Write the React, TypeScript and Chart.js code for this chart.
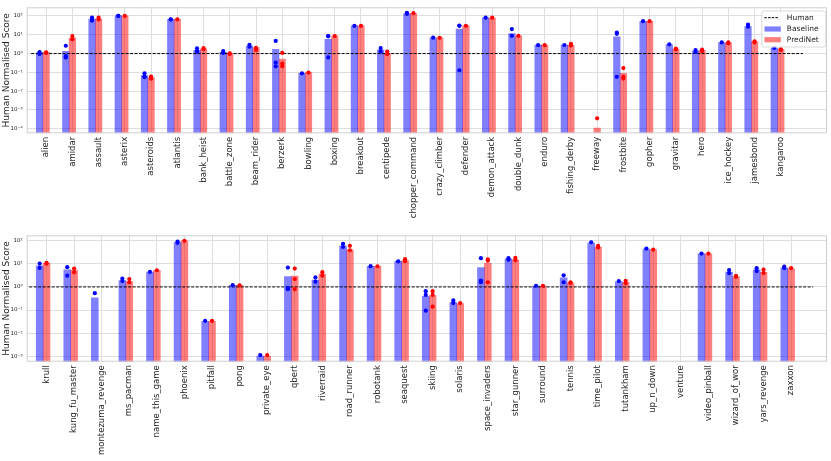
import { useEffect, useRef } from "react";
import { Chart, registerables } from "chart.js";

Chart.register(...registerables);

// ---- data ----
const topGames = [
  "alien", "amidar", "assault", "asterix", "asteroids", "atlantis", "bank_heist",
  "battle_zone", "beam_rider", "berzerk", "bowling", "boxing", "breakout", "centipede",
  "chopper_command", "crazy_climber", "defender", "demon_attack", "double_dunk", "enduro",
  "fishing_derby", "freeway", "frostbite", "gopher", "gravitar", "hero", "ice_hockey",
  "jamesbond", "kangaroo",
];
const topBaseline = [
  1.08, 1.3, 69, 102, 0.068, 66, 1.5, 1.17, 2.5, 1.67, 0.089, 5.7, 30, 1.6, 135, 6.9, 20,
  81, 11.7, 2.8, 2.8, null, 7.8, 52, 3.0, 1.37, 3.8, 27, 1.96,
];
const topPrediNet = [
  1.17, 6.9, 69, 100, 0.053, 66, 1.8, 1.04, 2.1, 0.51, 0.097, 8.5, 30, 1.04, 135, 6.9, 31,
  78, 8.8, 2.8, 2.8, 0.00011, 0.089, 52, 1.74, 1.48, 3.7, 4.2, 1.67,
];
const topBaselineSeeds = [
  [1.2, 0.96, 1.08], [2.6, 0.73, 0.62], [81, 56, 70], [102, 100], [0.09, 0.056, 0.06],
  [66, 64], [1.9, 1.27, 1.35], [1.37, 1.1], [2.9, 2.3], [4.7, 0.33, 0.21], [0.089],
  [8.5, 8.3, 0.62], [30], [1.96, 1.3], [146, 130], [7.0], [31, 30, 0.13], [81], [20, 8.8],
  [2.8], [2.85], [], [13, 11.2, 0.058], [53], [3.1], [1.55, 1.22], [3.9], [35, 27], [2.0],
];
const topPrediNetSeeds = [
  [1.17, 1.08], [8.5, 5.7], [81, 66], [100], [0.06, 0.046], [66], [1.96, 1.67],
  [1.04, 0.96], [2.0, 1.55], [1.08, 0.29, 0.21], [0.097], [8.5], [30], [1.27, 0.92], [140],
  [6.9], [30], [81], [8.8], [2.8], [3.25, 2.7], [0.00036], [0.17, 0.058, 0.047], [53],
  [1.85, 1.65], [1.6, 1.35], [3.9, 3.5], [4.5, 3.9], [1.75, 1.55],
];

const bottomGames = [
  "krull", "kung_fu_master", "montezuma_revenge", "ms_pacman", "name_this_game", "phoenix",
  "pitfall", "pong", "private_eye", "qbert", "riverraid", "road_runner", "robotank",
  "seaquest", "skiing", "solaris", "space_invaders", "star_gunner", "surround", "tennis",
  "time_pilot", "tutankham", "up_n_down", "venture", "video_pinball", "wizard_of_wor",
  "yars_revenge", "zaxxon",
];
const bottomBaseline = [
  8.2, 5.5, 0.34, 1.9, 4.4, 84, 0.032, 1.17, 0.00102, 2.8, 2.0, 61, 7.9, 12.9, 0.39, 0.21,
  6.9, 16.6, 1.1, 2.5, 79, 1.73, 44, null, 27, 4.4, 5.5, 6.7,
];
const bottomPrediNet = [
  10.6, 5.4, null, 1.7, 5.2, 99, 0.032, 1.17, 0.00102, 3.0, 3.6, 41, 7.9, 14.1, 0.42, 0.19,
  10.6, 15.1, 1.1, 1.47, 54, 1.57, 41, null, 27, 2.8, 4.3, 6.3,
];
const bottomBaselineSeeds = [
  [10.3, 6.7], [7.2, 3.1], [0.54], [2.3, 1.8], [4.5], [93, 82], [0.034], [1.2], [0.00112],
  [6.9, 0.91, 0.8], [2.6, 1.7], [74, 54], [8.0], [12.9], [0.66, 0.45, 0.094], [0.26, 0.2],
  [17.8, 1.9, 1.6], [17.8, 15.3], [1.13], [3.2, 1.6], [87], [1.8], [46], [], [28],
  [5.4, 4.0], [6.5, 4.9], [7.6, 6.6],
];
const bottomPrediNetSeeds = [
  [11, 10.2], [6.3, 4.3], [], [2.2, 1.6], [5.3], [100], [0.034], [1.17], [0.00112],
  [6.3, 2.2, 0.8], [4.4, 3.1], [61, 39], [7.9], [16, 13], [0.66, 0.45, 0.14], [0.2],
  [15.6, 13.7, 1.6], [18.5, 14.5], [1.13], [1.6, 1.47], [60, 52], [1.85, 1.45], [42], [],
  [28], [3.0, 2.75], [5.6, 4.0], [6.6],
];

const humanLevel = 1;
const yTitle = "Human Normalised Score";
const legendLabels = ["Human", "Baseline", "PrediNet"];

// ---- styling ----
const FONT = "'DejaVu Sans', sans-serif";
const TEXT = "#262626";
const GRID = "#dedede";
const FRAME = "#cfcfcf";
const BLUE_BAR = "rgba(0, 0, 255, 0.5)";
const RED_BAR = "rgba(255, 0, 0, 0.5)";
const BLUE = "#0000ff";
const RED = "#ff0000";
const BAR_SHIFT = -0.25;

const SUP: Record<string, string> = {
  "0": "\u2070", "1": "\u00b9", "2": "\u00b2", "3": "\u00b3", "4": "\u2074",
  "5": "\u2075", "6": "\u2076", "7": "\u2077", "8": "\u2078", "9": "\u2079", "-": "\u207b",
};
const powerLabel = (v: number) => {
  const e = Math.round(Math.log10(v));
  return "10" + String(e).split("").map((c) => SUP[c]).join("");
};

const toBars = (vals: (number | null)[], shift: number) =>
  vals.flatMap((v, i) => (v == null ? [] : [{ x: i + shift, y: v }]));
const toPoints = (seeds: number[][], shift: number) =>
  seeds.flatMap((vals, i) => vals.map((v) => ({ x: i + shift, y: v })));

type PanelProps = {
  games: string[];
  baseline: (number | null)[];
  prediNet: (number | null)[];
  baselineSeeds: number[][];
  prediNetSeeds: number[][];
  yMinExp: number;
  yMaxExp: number;
  xMin: number;
  xMax: number;
  humanFrom: number;
  humanTo: number;
  humanColor: string;
  humanWidth: number;
  showLegend: boolean;
  height: number;
  padTop: number;
  axisHeight: number;
};

const Panel = (p: PanelProps) => {
  const chartRef = useRef<Chart | null>(null);
  const chartCanvas = useRef<HTMLCanvasElement | null>(null);

  useEffect(() => {
    if (chartRef.current) {
      chartRef.current.destroy();
    }
    const context = chartCanvas.current?.getContext("2d");
    if (!context) return;

    const decades: number[] = [];
    for (let e = Math.ceil(p.yMinExp); e <= Math.floor(p.yMaxExp); e++) decades.push(e);

    const framePlugin = {
      id: "frameAndLegend",
      afterDraw(chart: Chart) {
        const { ctx, chartArea: a } = chart;
        ctx.save();
        ctx.strokeStyle = FRAME;
        ctx.lineWidth = 1;
        ctx.strokeRect(a.left + 0.5, a.top + 0.5, a.right - a.left - 1, a.bottom - a.top - 1);
        if (p.showLegend) {
          const w = 64;
          const h = 36;
          const left = a.right - 1.2 - w;
          const top = a.top + 3.7;
          ctx.fillStyle = "rgba(255,255,255,0.85)";
          ctx.strokeStyle = "#d8d8d8";
          ctx.beginPath();
          ctx.roundRect(left, top, w, h, 2);
          ctx.fill();
          ctx.stroke();
          const rows = [top + 6.7, top + 18, top + 28.7];
          // human dashed line
          ctx.strokeStyle = "#000";
          ctx.setLineDash([2.5, 1.2]);
          ctx.beginPath();
          ctx.moveTo(left + 2.5, rows[0]);
          ctx.lineTo(left + 17, rows[0]);
          ctx.stroke();
          ctx.setLineDash([]);
          ctx.fillStyle = BLUE_BAR;
          ctx.fillRect(left + 2.7, rows[1] - 2.6, 16.3, 5.2);
          ctx.fillStyle = RED_BAR;
          ctx.fillRect(left + 2.7, rows[2] - 2.6, 16.3, 5.2);
          ctx.fillStyle = TEXT;
          ctx.font = `7.5px ${FONT}`;
          ctx.textBaseline = "middle";
          ctx.textAlign = "left";
          legendLabels.forEach((t, i) => ctx.fillText(t, left + 25, rows[i]));
        }
        ctx.restore();
      },
    };

    chartRef.current = new Chart(context, {
      type: "bar",
      data: {
        datasets: [
          {
            type: "scatter",
            label: "Baseline seeds",
            data: toPoints(p.baselineSeeds, BAR_SHIFT),
            backgroundColor: BLUE,
            borderWidth: 0,
            pointRadius: 2.1,
            order: 1,
          },
          {
            type: "scatter",
            label: "PrediNet seeds",
            data: toPoints(p.prediNetSeeds, 0),
            backgroundColor: RED,
            borderWidth: 0,
            pointRadius: 2.1,
            order: 1,
          },
          {
            type: "line",
            label: legendLabels[0],
            data: [
              { x: p.humanFrom, y: humanLevel },
              { x: p.humanTo, y: humanLevel },
            ],
            borderColor: p.humanColor,
            borderWidth: p.humanWidth,
            borderDash: [3, 1.5],
            pointRadius: 0,
            fill: false,
            order: 2,
          },
          {
            type: "bar",
            label: legendLabels[1],
            data: toBars(p.baseline, BAR_SHIFT),
            backgroundColor: BLUE_BAR,
            borderWidth: 0,
            grouped: false,
            barPercentage: 1,
            categoryPercentage: 1,
            order: 3,
          },
          {
            type: "bar",
            label: legendLabels[2],
            data: toBars(p.prediNet, 0),
            backgroundColor: RED_BAR,
            borderWidth: 0,
            grouped: false,
            barPercentage: 1,
            categoryPercentage: 1,
            order: 3,
          },
        ],
      },
      options: {
        animation: false,
        responsive: true,
        maintainAspectRatio: false,
        events: [],
        layout: { padding: { top: p.padTop, right: 3.3, left: 0, bottom: 0 } },
        plugins: {
          legend: { display: false },
          tooltip: { enabled: false },
        },
        scales: {
          x: {
            type: "linear",
            min: p.xMin,
            max: p.xMax,
            offset: false,
            grid: { color: GRID, offset: false, drawTicks: false },
            border: { display: false },
            afterBuildTicks: (scale: any) => {
              scale.ticks = p.games.map((_, i) => ({ value: i }));
            },
            afterFit: (scale: any) => {
              scale.height = p.axisHeight;
            },
            ticks: {
              autoSkip: false,
              minRotation: 90,
              maxRotation: 90,
              padding: 3.5,
              color: TEXT,
              font: { family: FONT, size: 8.5 },
              callback: (v: any) => p.games[Math.round(Number(v))] ?? "",
            },
          },
          y: {
            type: "logarithmic",
            min: Math.pow(10, p.yMinExp),
            max: Math.pow(10, p.yMaxExp),
            grid: { color: GRID, drawTicks: false },
            border: { display: false },
            afterBuildTicks: (scale: any) => {
              scale.ticks = decades.map((e) => ({ value: Math.pow(10, e) }));
            },
            afterFit: (scale: any) => {
              scale.width = 26.7;
            },
            title: {
              display: true,
              text: yTitle,
              color: TEXT,
              font: { family: FONT, size: 9 },
              padding: { top: 1, bottom: 0 },
            },
            ticks: {
              autoSkip: false,
              padding: 4,
              color: TEXT,
              font: { family: FONT, size: 5.5 },
              callback: (v: any) => powerLabel(Number(v)),
            },
          },
        },
      },
      plugins: [framePlugin],
    } as any);

    return () => {
      if (chartRef.current) {
        chartRef.current.destroy();
        chartRef.current = null;
      }
    };
  }, [p]);

  return (
    <div style={{ position: "relative", width: 831, height: p.height }}>
      <canvas ref={chartCanvas}></canvas>
    </div>
  );
};

const topProps: PanelProps = {
  games: topGames,
  baseline: topBaseline,
  prediNet: topPrediNet,
  baselineSeeds: topBaselineSeeds,
  prediNetSeeds: topPrediNetSeeds,
  yMinExp: -4.24,
  yMaxExp: 2.46,
  xMin: -0.74,
  xMax: 29.76,
  humanFrom: -0.57,
  humanTo: 28.84,
  humanColor: "#000000",
  humanWidth: 1,
  showLegend: true,
  height: 228,
  padTop: 3.3,
  axisHeight: 94.7,
};

const bottomProps: PanelProps = {
  games: bottomGames,
  baseline: bottomBaseline,
  prediNet: bottomPrediNet,
  baselineSeeds: bottomBaselineSeeds,
  prediNetSeeds: bottomPrediNetSeeds,
  yMinExp: -3.24,
  yMaxExp: 2.24,
  xMin: -0.72,
  xMax: 28.3,
  humanFrom: -0.63,
  humanTo: 27.8,
  humanColor: "rgba(0,0,0,0.55)",
  humanWidth: 1.8,
  showLegend: false,
  height: 233,
  padTop: 3.7,
  axisHeight: 99.3,
};

const App = () => (
  <div style={{ position: "absolute", left: 0, top: 0, width: 831, height: 461, background: "#fff" }}>
    <Panel {...topProps} />
    <Panel {...bottomProps} />
  </div>
);

export default App;
